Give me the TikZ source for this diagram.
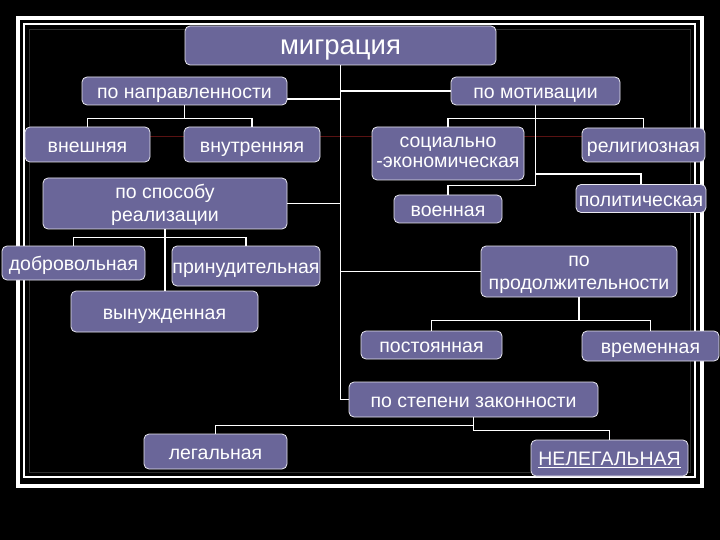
\documentclass[tikz,border=0pt]{standalone}
\usepackage{fontspec}
\setmainfont{Liberation Sans}
\usetikzlibrary{calc}
\definecolor{boxfill}{RGB}{106,102,153}
\definecolor{faintred}{RGB}{90,18,18}
\newcommand\twoln[2]{\vbox{\halign{\hfil##\hfil\cr#1\cr#2\cr}}}
\tikzset{
  box/.style={draw=white!85!boxfill, line width=0.8pt, fill=boxfill, rounded corners=5pt,
    text=white, inner sep=0pt, font=\fontsize{19.5}{22}\selectfont,
    text height=15.6pt, text depth=0.5pt},
  conn/.style={draw=white, line width=1.7pt}
}
\begin{document}
\begin{tikzpicture}[x=1pt,y=-1pt]
\fill[black] (0,0) rectangle (720,540);
\useasboundingbox (0,0) rectangle (720,540);
% frames
\draw[white, line width=3.5pt] (18,18) rectangle (702,486);
\draw[white, line width=1.3pt] (24,24) rectangle (695,477);
\draw[black!82!white, line width=0.6pt] (29,29) rectangle (690,472);
% faint red line
\draw[faintred, line width=0.8pt] (150,136) -- (582,136);

% nodes
\node[box, minimum width=311pt, minimum height=39pt, font=\fontsize{27.5}{31}\selectfont,
  text height=18.8pt] (migr) at (340.5,45.5) {миграция};
\node[box, minimum width=205pt, minimum height=28pt] (napr) at (184.5,91) {по направленности};
\node[box, minimum width=169pt, minimum height=28pt] (motiv) at (535.5,91) {по мотивации};
\node[box, minimum width=125pt, minimum height=35pt] (vnesh) at (87.5,144.5) {внешняя};
\node[box, minimum width=136pt, minimum height=35pt] (vnutr) at (252,144.5) {внутренняя};
\node[box, minimum width=152pt, minimum height=53pt, font=\fontsize{19.5}{20}\selectfont,
  text height=28.6pt] (socek) at (448,153.5) {\twoln{социально}{-экономическая}};
\node[box, minimum width=123pt, minimum height=34pt] (relig) at (643.5,145) {религиозная};
\node[box, minimum width=244pt, minimum height=51pt, font=\fontsize{19.5}{22.5}\selectfont,
  text height=36.1pt] (sposob) at (165,203.5) {\twoln{по способу}{реализации}};
\node[box, minimum width=108pt, minimum height=28pt] (voen) at (448,209) {военная};
\node[box, minimum width=130pt, minimum height=28pt] (polit) at (641,198.5) {политическая};
\node[box, minimum width=143pt, minimum height=34pt] (dobr) at (73.5,263) {добровольная};
\node[box, minimum width=148pt, minimum height=40pt] (prin) at (246,266) {принудительная};
\node[box, minimum width=187pt, minimum height=41pt] (vynuzh) at (164.5,311.5) {вынужденная};
\node[box, minimum width=196pt, minimum height=51pt, font=\fontsize{19.5}{23}\selectfont,
  text height=36.6pt] (prod) at (579,271.5) {\twoln{по}{продолжительности}};
\node[box, minimum width=141pt, minimum height=28pt] (post) at (431.5,345) {постоянная};
\node[box, minimum width=137pt, minimum height=30pt] (vrem) at (650.5,346) {временная};
\node[box, minimum width=249pt, minimum height=35pt] (zakon) at (473.5,399.5) {по степени законности};
\node[box, minimum width=143pt, minimum height=35pt] (leg) at (215.5,451.5) {легальная};
\node[box, minimum width=157pt, minimum height=36pt] (neleg) at (609.5,458) {\underline{НЕЛЕГАЛЬНАЯ}};

% trunk
\draw[conn] (migr.south) |- (zakon.west);
\coordinate (a1) at ($(napr.east)+(0,8)$);
\draw[conn] (a1) -- (a1 -| migr.south);
\draw[conn] (motiv.west) -- (motiv.west -| migr.south);
\draw[conn] (sposob.east) -- (sposob.east -| migr.south);
\draw[conn] (prod.west) -- (prod.west -| migr.south);

% по направленности
\draw[conn] (napr.south) -- ++(0,14);
\draw[conn] (vnesh.north) -- ++(0,-8) -| (vnutr.north);

% по мотивации
\draw[conn] (motiv.south) -- ++(0,80) -| (voen.north);
\draw[conn] (socek.north) -- ++(0,-8) -| (relig.north);
\draw[conn] (polit.north) -- ++(0,-10) -| (motiv.south);

% по способу
\draw[conn] (sposob.south) -- (sposob.south |- vynuzh.north);
\draw[conn] (dobr.north) -- ++(0,-8) -| (prin.north);

% по продолжительности
\draw[conn] (prod.south) -- ++(0,24);
\draw[conn] (post.north) -- ++(0,-10) -| (vrem.north);

% по степени законности
\draw[conn] (zakon.south) -- ++(0,13) -| (neleg.north);
\draw[conn] (leg.north) -- ++(0,-8) -| (zakon.south);
\end{tikzpicture}
\end{document}
